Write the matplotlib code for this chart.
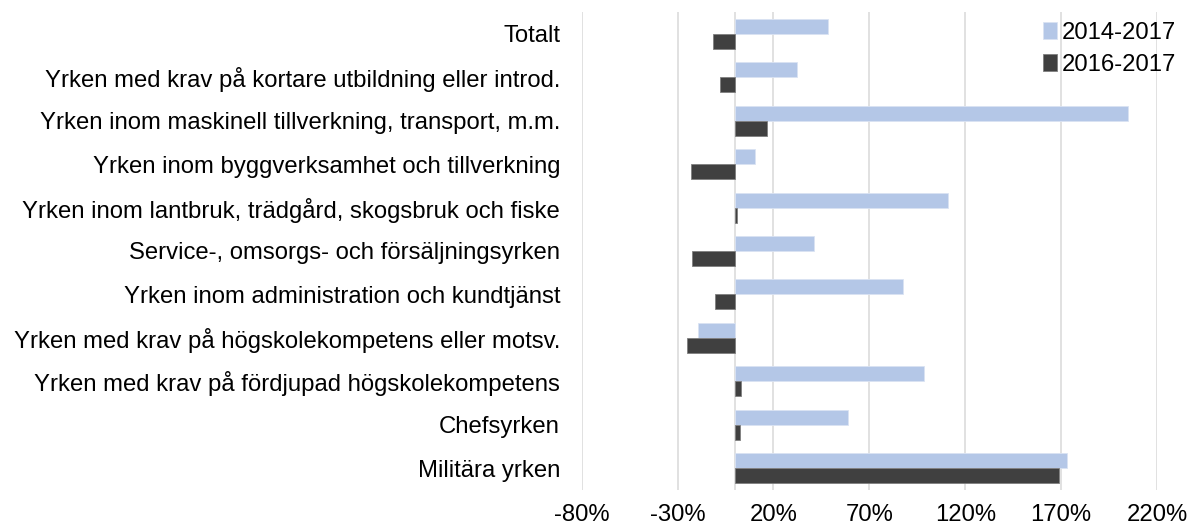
import matplotlib
matplotlib.use("Agg")
import matplotlib.pyplot as plt
import numpy as np
from matplotlib.ticker import FuncFormatter

plt.rcParams['font.family'] = ['Liberation Sans', 'DejaVu Sans']

# yrkesgrupper, uppifrån och ned
categories = [
    "Totalt",
    "Yrken med krav på kortare utbildning eller introd.",
    "Yrken inom maskinell tillverkning, transport, m.m.",
    "Yrken inom byggverksamhet och tillverkning",
    "Yrken inom lantbruk, trädgård, skogsbruk och fiske",
    "Service-, omsorgs- och försäljningsyrken",
    "Yrken inom administration och kundtjänst",
    "Yrken med krav på högskolekompetens eller motsv.",
    "Yrken med krav på fördjupad högskolekompetens",
    "Chefsyrken",
    "Militära yrken",
]
# förändring i procent
v_2014_2017 = [48.4, 32.1, 204.8, 10.5, 110.9, 41.2, 87.4, -19.3, 98.3, 59.0, 173.1]
v_2016_2017 = [-11.6, -7.8, 16.4, -23.1, 0.8, -22.5, -10.3, -25.0, 2.9, 2.5, 169.1]
series_names = ["2014-2017", "2016-2017"]
xticks = [-80, -30, 20, 70, 120, 170, 220]

fs = 17.2
fig = plt.figure(figsize=(11.92, 5.29), dpi=100)
ax = fig.add_axes([581.7/1192, 39/529, 575.3/1192, 478/529])

y = np.arange(len(categories))
h = 0.345
ax.barh(y - h/2, v_2014_2017, height=h, color="#B4C7E7", edgecolor="#DAE3F3",
        linewidth=0.6, label=series_names[0], zorder=3)
ax.barh(y + h/2, v_2016_2017, height=h, color="#404040", edgecolor="#7F7F7F",
        linewidth=0.6, label=series_names[1], zorder=3)

ax.set_xlim(-80, 220)
ax.set_ylim(len(categories) - 0.5, -0.5)
ax.set_xticks(xticks)
ax.xaxis.set_major_formatter(FuncFormatter(lambda v, p: f"{v:.0f}%"))
ax.set_yticks(y)
ax.set_yticklabels(categories)
ax.tick_params(axis='y', length=0, pad=15.6, labelsize=fs)
ax.tick_params(axis='x', length=0, pad=10, labelsize=fs)
ax.grid(axis='x', color="#D9D9D9", linewidth=1.1, zorder=0)
ax.axvline(0, color="#D9D9D9", linewidth=1.1, zorder=2)
for s in ax.spines.values():
    s.set_visible(False)

ax.legend(loc="upper left", bbox_to_anchor=(1043/1192, 1 - 22/529),
          bbox_transform=fig.transFigure, frameon=False, fontsize=fs,
          handlelength=0.6, handleheight=0.7, handletextpad=0.2,
          labelspacing=0.42, borderpad=0, borderaxespad=0)

fig.savefig("out.png", dpi=100)
